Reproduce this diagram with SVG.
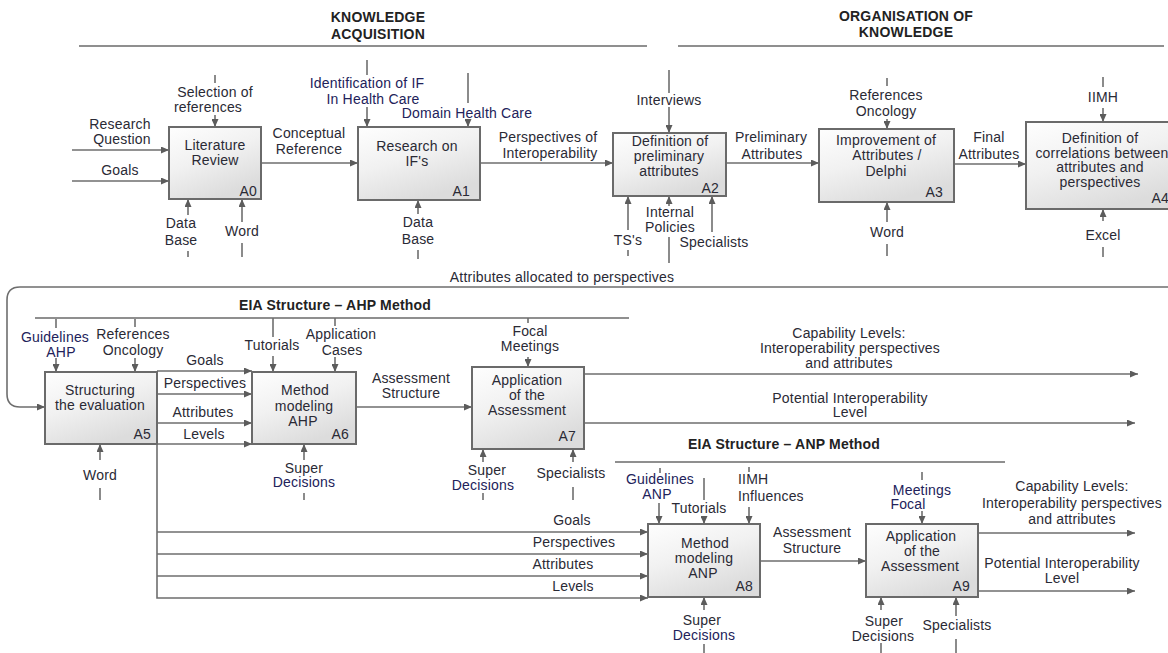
<svg xmlns="http://www.w3.org/2000/svg" width="1168" height="653" viewBox="0 0 1168 653">
  <defs>
    <linearGradient id="boxFill" x1="0" y1="0" x2="0.5" y2="1">
      <stop offset="0" stop-color="#fefefe"/>
      <stop offset="0.5" stop-color="#f1f1f1"/>
      <stop offset="1" stop-color="#dcdcdc"/>
    </linearGradient>
    <marker id="arrow" markerUnits="userSpaceOnUse" markerWidth="8" markerHeight="7" refX="8" refY="3.5" orient="auto">
      <path d="M0,0 L8,3.5 L0,7 z" fill="#5c5c5c"/>
    </marker>
    <style>
      .t { font-family: "Liberation Sans", Arial, sans-serif; font-size: 14px; letter-spacing: 0.2px; fill: #2a2a35; text-anchor: middle; }
      .b { font-weight: bold; fill: #222; }
      .e { text-anchor: end; }
      .s { text-anchor: start; }
      .nv { fill: #22225a; }
      .box { fill: url(#boxFill); stroke: #6a6a6a; stroke-width: 2; }
      .c { fill: none; stroke: #6e6e6e; stroke-width: 1.6; }
      .a { marker-end: url(#arrow); }
      .rule { fill: none; stroke: #6a6a6a; stroke-width: 1.6; }
    </style>
  </defs>
  <rect width="1168" height="653" fill="#ffffff"/>

  <!-- phase headings -->
  <g id="headings">
    <text class="t b" x="378" y="22">KNOWLEDGE</text>
    <text class="t b" x="378" y="39">ACQUISITION</text>
    <path class="rule" d="M79,46 H647"/>
    <text class="t b" x="906" y="21">ORGANISATION OF</text>
    <text class="t b" x="906" y="37">KNOWLEDGE</text>
    <path class="rule" d="M678,46 H1164"/>
    <text class="t b" x="335" y="310">EIA Structure – AHP Method</text>
    <path class="rule" d="M35,318 H629"/>
    <text class="t b" x="784" y="449">EIA Structure – ANP Method</text>
    <path class="rule" d="M615,462 H1005"/>
  </g>

  <!-- arrows, tunnels and their labels -->
  <g id="connectors">
    <!-- A0 -->
    <path class="c a" d="M72,150 H169"/>
    <text class="t" x="120" y="129">Research</text>
    <text class="t" x="122" y="144">Question</text>
    <path class="c a" d="M72,181 H169"/>
    <text class="t" x="120" y="175">Goals</text>
    <path class="c" d="M215,75 V83"/>
    <path class="c a" d="M215,115 V127"/>
    <text class="t" x="215" y="97">Selection of</text>
    <text class="t" x="208" y="112">references</text>
    <path class="c a" d="M188,215 V199"/>
    <path class="c" d="M188,251 V257"/>
    <text class="t" x="181" y="228">Data</text>
    <text class="t" x="181" y="245">Base</text>
    <path class="c a" d="M242,222 V199"/>
    <path class="c" d="M242,243 V257"/>
    <text class="t" x="242" y="236">Word</text>
    <path class="c a" d="M261,163 H358"/>
    <text class="t" x="309" y="138">Conceptual</text>
    <text class="t" x="309" y="154">Reference</text>

    <!-- A1 -->
    <path class="c" d="M367,60 V75"/>
    <path class="c a" d="M367,107 V127"/>
    <text class="t nv" x="367" y="88">Identification of IF</text>
    <text class="t nv" x="373" y="104">In Health Care</text>
    <path class="c" d="M468,73 V103"/>
    <path class="c a" d="M468,119 V127"/>
    <text class="t nv" x="467" y="118">Domain Health Care</text>
    <path class="c a" d="M418,214 V200"/>
    <path class="c" d="M418,250 V259"/>
    <text class="t" x="418" y="227">Data</text>
    <text class="t" x="418" y="244">Base</text>
    <path class="c a" d="M480,163 H613"/>
    <text class="t" x="548" y="142">Perspectives of</text>
    <text class="t" x="550" y="158">Interoperability</text>

    <!-- A2 -->
    <path class="c" d="M669,70 V93"/>
    <path class="c a" d="M669,107 V133"/>
    <text class="t" x="669" y="105">Interviews</text>
    <path class="c a" d="M628,230 V196"/>
    <path class="c" d="M628,250 V256"/>
    <text class="t" x="628" y="245">TS's</text>
    <path class="c a" d="M669,206 V196"/>
    <path class="c" d="M669,237 V263"/>
    <text class="t" x="670" y="217">Internal</text>
    <text class="t" x="670" y="232">Policies</text>
    <path class="c a" d="M712,232 V196"/>
    <text class="t" x="714" y="247">Specialists</text>
    <path class="c a" d="M726,163 H819"/>
    <text class="t" x="771" y="142">Preliminary</text>
    <text class="t" x="772" y="159">Attributes</text>

    <!-- A3 -->
    <path class="c" d="M887,78 V86"/>
    <path class="c a" d="M887,119 V129"/>
    <text class="t" x="886" y="100">References</text>
    <text class="t" x="886" y="116">Oncology</text>
    <path class="c a" d="M887,222 V202"/>
    <path class="c" d="M887,244 V256"/>
    <text class="t" x="887" y="237">Word</text>
    <path class="c a" d="M954,164 H1026"/>
    <text class="t" x="989" y="142">Final</text>
    <text class="t" x="989" y="159">Attributes</text>

    <!-- A4 -->
    <path class="c" d="M1103,77 V87"/>
    <path class="c a" d="M1103,108 V122"/>
    <text class="t" x="1103" y="102">IIMH</text>
    <path class="c a" d="M1103,221 V209"/>
    <path class="c" d="M1103,247 V257"/>
    <text class="t" x="1103" y="240">Excel</text>

    <!-- feedback from A4 to A5 -->
    <text class="t" x="562" y="282">Attributes allocated to perspectives</text>
    <path class="c a" d="M1168,287 H20 Q7,287 7,300 V394 Q7,407 20,407 H45"/>

    <!-- A5 -->
    <path class="c" d="M56,319 V328"/>
    <path class="c a" d="M56,358 V372"/>
    <text class="t nv" x="55" y="342">Guidelines</text>
    <text class="t nv" x="61" y="357">AHP</text>
    <path class="c" d="M135,319 V327"/>
    <path class="c a" d="M135,358 V372"/>
    <text class="t" x="133" y="339">References</text>
    <text class="t" x="133" y="355">Oncology</text>
    <path class="c a" d="M100,460 V444"/>
    <path class="c" d="M100,488 V500"/>
    <text class="t" x="100" y="480">Word</text>
    <path class="c a" d="M157,371 H252"/>
    <text class="t" x="205" y="365">Goals</text>
    <path class="c a" d="M157,394 H252"/>
    <text class="t" x="205" y="388">Perspectives</text>
    <path class="c a" d="M157,423 H252"/>
    <text class="t" x="203" y="417">Attributes</text>
    <path class="c a" d="M157,444 H252"/>
    <text class="t" x="204" y="439">Levels</text>

    <!-- A5 outputs carried down to A8 -->
    <path class="c a" d="M157,444 V598 H648"/>
    <path class="c a" d="M157,532 H648"/>
    <path class="c a" d="M157,554 H648"/>
    <path class="c a" d="M157,576 H648"/>
    <text class="t" x="572" y="525">Goals</text>
    <text class="t" x="574" y="547">Perspectives</text>
    <text class="t" x="563" y="569">Attributes</text>
    <text class="t" x="573" y="591">Levels</text>

    <!-- A6 -->
    <path class="c" d="M273,318 V337"/>
    <path class="c a" d="M273,356 V372"/>
    <text class="t" x="272" y="350">Tutorials</text>
    <path class="c" d="M335,318 V326"/>
    <path class="c a" d="M335,357 V372"/>
    <text class="t" x="341" y="339">Application</text>
    <text class="t" x="342" y="355">Cases</text>
    <path class="c a" d="M304,460 V444"/>
    <path class="c" d="M304,493 V500"/>
    <text class="t" x="304" y="473">Super</text>
    <text class="t nv" x="304" y="487">Decisions</text>
    <path class="c a" d="M356,407 H472"/>
    <text class="t" x="411" y="383">Assessment</text>
    <text class="t" x="411" y="398">Structure</text>

    <!-- A7 -->
    <path class="c" d="M528,318 V323"/>
    <path class="c a" d="M528,357 V367"/>
    <text class="t" x="530" y="336">Focal</text>
    <text class="t" x="530" y="351">Meetings</text>
    <path class="c a" d="M483,462 V449"/>
    <path class="c" d="M483,493 V500"/>
    <text class="t" x="487" y="475">Super</text>
    <text class="t nv" x="483" y="490">Decisions</text>
    <path class="c a" d="M573,462 V449"/>
    <path class="c" d="M573,487 V500"/>
    <text class="t" x="571" y="478">Specialists</text>
    <path class="c a" d="M584,374 H1138"/>
    <text class="t" x="849" y="338">Capability Levels:</text>
    <text class="t" x="850" y="353">Interoperability perspectives</text>
    <text class="t" x="849" y="368">and attributes</text>
    <path class="c a" d="M584,423 H1135"/>
    <text class="t" x="850" y="403">Potential Interoperability</text>
    <text class="t" x="850" y="417">Level</text>

    <!-- A8 -->
    <path class="c" d="M660,468 V473"/>
    <path class="c a" d="M659,503 V524"/>
    <text class="t nv" x="660" y="484">Guidelines</text>
    <text class="t nv" x="657" y="499">ANP</text>
    <path class="c" d="M704,478 V500"/>
    <path class="c a" d="M704,516 V524"/>
    <text class="t" x="699" y="513">Tutorials</text>
    <path class="c" d="M749,467 V472"/>
    <path class="c a" d="M749,507 V524"/>
    <text class="t s" x="738" y="484">IIMH</text>
    <text class="t s" x="738" y="501">Influences</text>
    <path class="c a" d="M704,610 V597"/>
    <path class="c" d="M704,644 V653"/>
    <text class="t" x="702" y="625">Super</text>
    <text class="t nv" x="704" y="640">Decisions</text>
    <path class="c a" d="M760,561 H866"/>
    <text class="t" x="812" y="537">Assessment</text>
    <text class="t" x="812" y="553">Structure</text>

    <!-- A9 -->
    <path class="c" d="M922,472 V480"/>
    <path class="c a" d="M922,511 V524"/>
    <text class="t nv" x="922" y="495">Meetings</text>
    <text class="t nv" x="908" y="509">Focal</text>
    <path class="c a" d="M881,610 V597"/>
    <path class="c" d="M881,643 V653"/>
    <text class="t" x="884" y="626">Super</text>
    <text class="t" x="883" y="641">Decisions</text>
    <path class="c a" d="M956,616 V597"/>
    <path class="c" d="M956,639 V653"/>
    <text class="t" x="957" y="630">Specialists</text>
    <path class="c a" d="M972,533 H1135"/>
    <text class="t" x="1072" y="491">Capability Levels:</text>
    <text class="t" x="1072" y="508">Interoperability perspectives</text>
    <text class="t" x="1072" y="524">and attributes</text>
    <path class="c a" d="M978,591 H1135"/>
    <text class="t" x="1062" y="568">Potential Interoperability</text>
    <text class="t" x="1062" y="583">Level</text>
  </g>

  <!-- activity boxes -->
  <g id="A0">
    <rect class="box" x="169" y="127" width="92" height="72"/>
    <text class="t" x="215" y="150">Literature</text>
    <text class="t" x="215" y="165">Review</text>
    <text class="t e" x="257" y="196">A0</text>
  </g>
  <g id="A1">
    <rect class="box" x="358" y="127" width="122" height="73"/>
    <text class="t" x="417" y="151">Research on</text>
    <text class="t" x="417" y="166">IF's</text>
    <text class="t e" x="470" y="196">A1</text>
  </g>
  <g id="A2">
    <rect class="box" x="613" y="133" width="113" height="63"/>
    <text class="t" x="670" y="146">Definition of</text>
    <text class="t" x="669" y="161">preliminary</text>
    <text class="t" x="669" y="176">attributes</text>
    <text class="t e" x="719" y="193">A2</text>
  </g>
  <g id="A3">
    <rect class="box" x="819" y="129" width="135" height="73"/>
    <text class="t" x="886" y="145">Improvement of</text>
    <text class="t" x="887" y="160">Attributes /</text>
    <text class="t" x="886" y="176">Delphi</text>
    <text class="t e" x="943" y="197">A3</text>
  </g>
  <g id="A4">
    <rect class="box" x="1026" y="122" width="160" height="87"/>
    <text class="t" x="1100" y="143">Definition of</text>
    <text class="t" x="1102" y="158">correlations between</text>
    <text class="t" x="1100" y="172">attributes and</text>
    <text class="t" x="1100" y="187">perspectives</text>
    <text class="t e" x="1169" y="203">A4</text>
  </g>
  <g id="A5">
    <rect class="box" x="45" y="372" width="112" height="72"/>
    <text class="t" x="100" y="395">Structuring</text>
    <text class="t" x="100" y="410">the evaluation</text>
    <text class="t e" x="151" y="439">A5</text>
  </g>
  <g id="A6">
    <rect class="box" x="252" y="372" width="104" height="72"/>
    <text class="t" x="305" y="395">Method</text>
    <text class="t" x="304" y="411">modeling</text>
    <text class="t" x="303" y="426">AHP</text>
    <text class="t e" x="349" y="439">A6</text>
  </g>
  <g id="A7">
    <rect class="box" x="472" y="367" width="112" height="82"/>
    <text class="t" x="527" y="385">Application</text>
    <text class="t" x="527" y="400">of the</text>
    <text class="t" x="527" y="415">Assessment</text>
    <text class="t e" x="576" y="441">A7</text>
  </g>
  <g id="A8">
    <rect class="box" x="648" y="524" width="112" height="73"/>
    <text class="t" x="705" y="548">Method</text>
    <text class="t" x="704" y="563">modeling</text>
    <text class="t" x="703" y="578">ANP</text>
    <text class="t e" x="753" y="591">A8</text>
  </g>
  <g id="A9">
    <rect class="box" x="866" y="524" width="112" height="73"/>
    <text class="t" x="921" y="541">Application</text>
    <text class="t" x="922" y="556">of the</text>
    <text class="t" x="920" y="571">Assessment</text>
    <text class="t e" x="970" y="591">A9</text>
  </g>
</svg>
